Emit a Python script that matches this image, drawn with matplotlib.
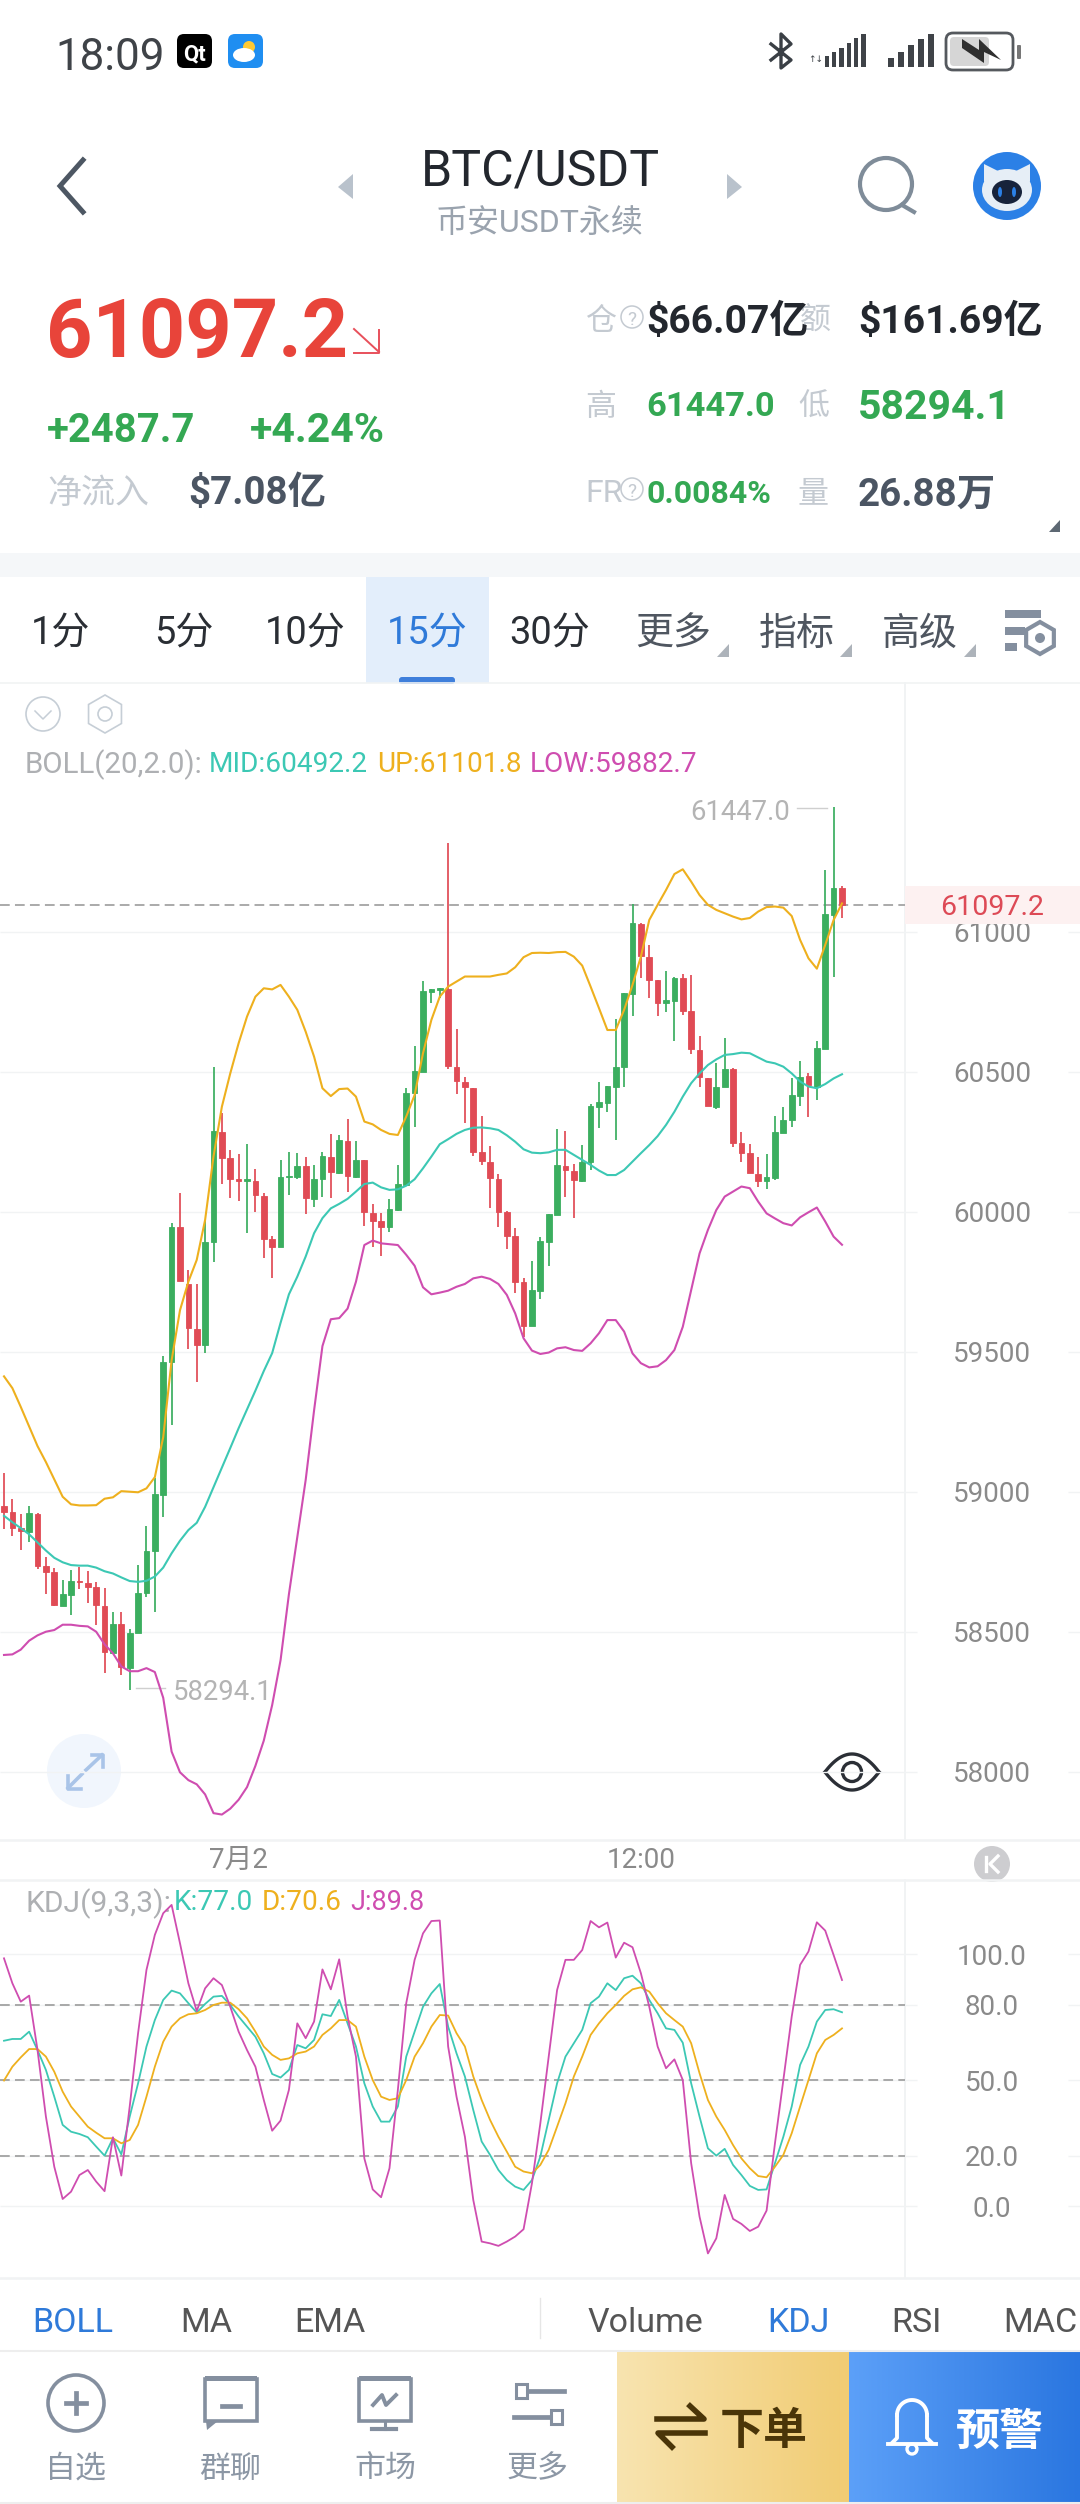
import matplotlib
matplotlib.use("Agg")
import matplotlib.pyplot as plt
import numpy as np
from matplotlib.colors import LinearSegmentedColormap
from matplotlib.patches import Circle, FancyBboxPatch, Polygon, Rectangle, Ellipse

plt.rcParams['font.family'] = ['Roboto', 'Noto Sans CJK SC', 'DejaVu Sans']

# C A N D L E S  (15 min BTC/USDT)
#############################################
opens = [58950,58930,58871,58858,58923,58734,58716,58594,58632,58682,
         58675,58659,58594,58424,58527,58373,58497,58638,58791,58989,
         59464,59946,59744,59581,59524,59894,60287,60192,60118,60112,
         60112,60058,59902,59874,60124,60126,60164,60048,60118,60198,
         60138,60255,60126,60185,59998,59968,59948,60007,60097,60424,
         60501,60786,60793,60795,60519,60466,60444,60216,60180,60119,
         60000,59914,59751,59593,59718,59894,59989,60164,60148,60112,
         60178,60376,60391,60448,60519,60779,61029,60912,60827,60748,
         60755,60835,60718,60579,60480,60376,60445,60510,60245,60210,
         60136,60111,60120,60283,60329,60416,60486,60448,60583,61061,61156]
closes = [58928,58873,58862,58925,58734,58716,58595,58635,58682,58677,
          58659,58595,58427,58529,58376,58498,58641,58791,58992,59464,
          59948,59753,59585,59524,59894,60289,60192,60118,60111,60118,
          60061,59902,59876,60126,60130,60166,60050,60119,60200,60142,
          60257,60130,60186,59999,59969,59948,60011,60099,60426,60504,
          60788,60798,60799,60522,60468,60445,60216,60182,60120,59999,
          59914,59751,59594,59721,59896,59993,60168,60150,60114,60180,
          60380,60392,60450,60519,60781,61031,60914,60829,60748,60756,
          60837,60719,60582,60483,60380,60448,60510,60245,60212,60138,
          60111,60126,60285,60329,60418,60483,60454,60585,61063,61156,61097]
highs = [59068,58976,58920,58950,58925,58768,58730,58686,58720,58733,
         58717,58677,58658,58571,58571,58511,58739,58879,59049,59485,
         59962,60067,59793,59744,59972,60517,60352,60222,60206,60242,
         60152,60067,59914,60186,60216,60210,60195,60168,60216,60277,
         60275,60331,60254,60186,60027,59995,60045,60168,60442,60593,
         60825,60798,60799,61319,60652,60481,60444,60343,60236,60135,
         60004,59942,59763,59826,59910,59993,60295,60289,60170,60239,
         60385,60463,60450,60689,60781,61100,61031,60954,60829,60860,
         60841,60850,60847,60630,60480,60531,60620,60513,60285,60242,
         60195,60207,60343,60376,60478,60539,60495,60611,61222,61447,61164]
lows = [58868,58842,58794,58820,58726,58637,58592,58594,58562,58654,
        58603,58526,58354,58424,58348,58294,58497,58626,58573,58909,
        59240,59753,59511,59393,59498,59823,60099,60051,60041,59924,
        59999,59837,59763,59874,60060,60119,59992,60017,60055,60049,
        60135,60073,60120,59951,59876,59844,59930,60002,60097,60302,
        60501,60748,60763,60511,60421,60319,60201,60168,60016,59948,
        59867,59710,59552,59593,59689,59807,59989,60055,59977,60106,
        60150,60301,60358,60257,60448,60701,60837,60763,60701,60716,
        60612,60704,60563,60448,60380,60368,60445,60231,60180,60138,
        60088,60081,60114,60283,60305,60380,60341,60400,60583,60841,61051]

# B O L L
#############################################
boll_up = [59413,59371,59304,59234,59164,59107,59045,58983,58956,58952,
           58952,58953,58976,58981,59003,59001,58999,59013,59053,59196,
           59470,59649,59751,59829,59972,60198,60376,60495,60603,60698,
           60769,60799,60795,60811,60769,60722,60644,60555,60442,60414,
           60439,60441,60412,60323,60313,60293,60279,60275,60341,60418,
           60567,60686,60769,60805,60823,60841,60841,60841,60841,60847,
           60852,60874,60910,60925,60926,60925,60928,60929,60912,60880,
           60805,60728,60650,60650,60722,60811,60912,61043,61097,61150,
           61207,61224,61180,61132,61097,61079,61067,61055,61045,61050,
           61073,61089,61091,61087,61057,60972,60906,60869,60954,61043,61102]
boll_mid = [58915,58892,58871,58849,58820,58791,58765,58749,58739,58737,
            58737,58730,58717,58709,58695,58682,58679,58683,58698,58730,
            58781,58826,58864,58890,58947,59017,59087,59157,59228,59295,
            59362,59432,59496,59604,59706,59769,59841,59924,59978,60013,
            60029,60047,60073,60100,60105,60088,60079,60081,60094,60117,
            60156,60198,60242,60260,60279,60293,60301,60302,60299,60293,
            60274,60251,60224,60212,60210,60213,60222,60222,60204,60186,
            60168,60148,60132,60132,60150,60180,60210,60239,60271,60311,
            60358,60412,60460,60495,60525,60545,60561,60564,60569,60567,
            60552,60537,60531,60519,60495,60466,60448,60442,60457,60477,60492]
boll_low = [58418,58420,58437,58469,58488,58501,58507,58526,58526,58522,
            58520,58501,58456,58424,58377,58360,58360,58371,58357,58265,
            58073,57999,57971,57956,57920,57853,57848,57869,57901,57946,
            58022,58112,58239,58399,58635,58839,59043,59291,59521,59617,
            59621,59655,59751,59882,59898,59888,59885,59882,59847,59808,
            59731,59706,59712,59719,59733,59743,59763,59769,59761,59743,
            59704,59638,59549,59505,59493,59498,59513,59517,59507,59504,
            59531,59567,59614,59614,59573,59495,59460,59445,59449,59471,
            59507,59590,59721,59852,59936,60007,60055,60073,60091,60085,
            60037,59995,59977,59960,59952,59981,59999,60016,59966,59912,59883]

# K D J
#############################################
kdj_k = [65.7,66.4,66.4,69.3,62.0,54.1,43.5,32.3,29.6,28.7,
         27.4,23.7,20.1,27.0,20.6,35.6,48.8,63.4,73.9,81.9,
         85.6,84.5,80.6,76.9,80.3,83.2,83.5,79.9,75.3,71.3,
         67.3,60.7,52.5,51.1,54.1,64.0,62.7,66.0,76.2,75.5,
         81.9,72.6,63.4,48.8,39.6,33.6,33.6,39.6,59.4,69.3,
         79.2,84.5,88.2,71.3,60.7,51.5,38.2,25.7,20.4,14.4,
         10.4,7.8,6.5,10.4,19.7,34.3,48.8,59.4,64.7,70.0,
         80.6,83.2,88.5,85.8,90.5,91.5,88.5,81.9,76.6,70.6,
         70.0,64.9,48.8,35.6,23.0,20.1,22.8,16.4,12.4,8.1,
         6.5,6.7,17.1,27.6,39.6,56.1,63.4,73.3,77.9,78.2,77.0]
kdj_d = [49.9,55.4,59.1,62.4,62.4,59.4,53.4,45.5,39.6,35.6,
         31.6,29.2,27.0,27.0,25.0,26.3,32.3,43.5,55.4,65.3,
         71.3,74.6,76.2,76.6,77.9,79.9,80.8,80.8,78.2,74.6,
         69.3,63.4,60.1,58.1,58.7,60.7,61.4,63.4,68.0,70.6,
         73.9,73.9,71.3,59.4,50.1,43.5,42.2,42.9,50.1,59.4,
         64.7,71.3,75.9,75.7,68.7,63.4,51.5,42.2,34.3,27.6,
         21.7,15.7,13.8,13.1,16.4,22.4,31.6,40.9,51.5,59.4,
         68.0,72.6,76.6,79.9,83.5,86.1,86.9,85.2,80.6,76.6,
         73.9,71.3,64.7,52.8,42.2,35.6,30.3,24.3,19.0,15.1,
         12.0,11.5,15.7,20.4,29.0,39.6,50.1,60.7,66.0,68.0,70.6]
kdj_j = [98.4,88.5,81.2,83.6,62.0,35.6,15.7,2.9,5.8,12.4,
         14.4,9.8,6.0,27.4,12.2,39.6,68.7,93.8,107.7,116.3,
         119.6,104.4,88.5,77.5,86.5,90.5,87.8,79.2,69.3,62.0,
         55.4,42.2,30.0,34.0,46.2,72.6,66.7,73.3,94.0,86.1,
         98.0,75.3,59.4,19.0,6.7,3.6,15.1,46.2,80.6,97.8,
         108.3,113.2,113.4,63.4,43.5,27.6,2.5,-14.0,-14.7,-15.7,
         -14.0,-12.0,-9.1,9.1,32.9,59.4,85.8,97.8,97.8,101.7,
         113.2,110.7,112.6,98.7,104.6,102.8,92.5,79.2,63.4,54.8,
         58.3,50.1,17.1,-4.1,-18.7,-12.7,4.5,-5.0,-7.0,-9.8,
         -8.1,-1.7,25.0,50.1,75.3,95.8,101.1,112.7,109.4,99.7,89.8]

price_ticks = [61000, 60500, 60000, 59500, 59000, 58500, 58000]
kdj_ticks = [100, 80, 50, 20, 0]
kdj_dashed = [80, 50, 20]
time_ticks = [28, 76]
time_labels = ["7月2", "12:00"]
last_price = 61097.2

GREEN = "#3bae5f"
RED = "#e04b55"
TEAL = "#3cc8b4"
ORANGE = "#eeb01e"
MAGENTA = "#cf4db0"
GRAY = "#8a8a8a"
PALE = "#f1f3f4"
ICON = "#848f9f"
DASH = (0, (5, 2.7))

W, H = 1080, 2504
fig = plt.figure(figsize=(W / 100, H / 100), dpi=100, facecolor="white")

# background axes in screen pixels for the app chrome
ui = fig.add_axes([0, 0, 1, 1], zorder=0)
ui.set_axis_off()


def txt(x, y, s, px, color="#333333", ha="left", weight="normal", z=5):
    return ui.text(x, y, s, fontsize=px * 0.72, color=color, ha=ha, va="center_baseline",
                   fontweight=weight, zorder=z)


def rrect(x0, y0, x1, y1, r, **kw):
    p = FancyBboxPatch((x0 + r, y0 + r), x1 - x0 - 2 * r, y1 - y0 - 2 * r,
                       boxstyle="round,pad=%f,rounding_size=%f" % (r, r), **kw)
    ui.add_patch(p)


def hexagon(cx, cy, r, color, lw):
    a = np.radians(np.arange(30, 390, 60))
    ui.add_patch(Polygon(np.c_[cx + r * np.cos(a), cy + r * np.sin(a)], closed=True,
                         fill=False, ec=color, lw=lw))


# S T A T U S   B A R
#############################################
txt(55, 54, "18:09", 44, "#3f4348")
rrect(177, 34, 212, 68, 7, fc="black", ec="none")
txt(194.5, 52, "Qt", 22, "white", ha="center", weight="bold")
rrect(228, 34, 263, 68, 7, fc="#1f8ef1", ec="none")
ui.add_patch(Circle((249, 47), 6, fc="#ffc933", ec="none", zorder=3))
ui.add_patch(Ellipse((244, 55), 22, 14, fc="white", ec="none", zorder=4))
ui.plot([771, 791, 781, 781, 791, 771], [44, 60, 68, 34, 44, 60], color="#3a3f45", lw=2.4)
for i, h in enumerate([6, 8, 11, 15, 19, 24, 29, 33]):
    if i > 1:
        ui.add_patch(Rectangle((810 + 7.3 * i, 67 - h), 4.5, h, fc="#3f4348", ec="none"))
ui.text(808, 60, "↑↓", fontsize=6.5, color="#3f4348", va="center", family="DejaVu Sans")
for i, h in enumerate([9, 15, 22, 28, 33]):
    ui.add_patch(Rectangle((888 + 10 * i, 67 - h), 5.5, h, fc="#3f4348", ec="none"))
rrect(946, 33, 1013, 70, 7, fc="#ffffff", ec="#55595e", lw=2)
rrect(950, 37, 989, 66, 4, fc="#d6d6d6", ec="none")
rrect(1017, 45, 1021, 59, 1, fc="#777777", ec="none")
ui.add_patch(Polygon([(962, 39), (979, 50), (979, 39), (1001, 60), (984, 52), (984, 63), (962, 48)],
                     closed=True, fc="#2f2f2f", ec="none", zorder=4))

# H E A D E R
#############################################
ui.plot([83, 60, 83], [160, 186, 212], color="#4d5763", lw=3.6, solid_joinstyle="miter")
ui.add_patch(Polygon([(353, 174), (338, 187), (353, 199)], fc="#b9c2cc", ec="none"))
ui.add_patch(Polygon([(727, 174), (742, 187), (727, 199)], fc="#b9c2cc", ec="none"))
txt(540, 166, "BTC/USDT", 50, "#23272e", ha="center")
txt(540, 220, "币安USDT永续", 32, "#9aa3ae", ha="center")
ui.add_patch(Circle((886, 184), 26, fill=False, ec="#7f8c99", lw=3))
ui.plot([902, 914], [205, 212], color="#7f8c99", lw=3)
ui.add_patch(Circle((1007, 186), 34, fc="#2b80e6", ec="none"))
ui.add_patch(Ellipse((1007, 190), 50, 42, fc="#e6eef6", ec="none", zorder=3))
ui.add_patch(Polygon([(984, 164), (1000, 172), (984, 182)], fc="#e6eef6", ec="none", zorder=3))
ui.add_patch(Polygon([(1030, 164), (1014, 172), (1030, 182)], fc="#e6eef6", ec="none", zorder=3))
ui.add_patch(Ellipse((1007, 192), 30, 24, fc="#17233b", ec="none", zorder=4))
ui.add_patch(Ellipse((1000, 192), 4, 10, fc="#2b80e6", ec="none", zorder=5))
ui.add_patch(Ellipse((1014, 192), 4, 10, fc="#2b80e6", ec="none", zorder=5))

txt(46, 327, "61097.2", 81, "#e8443a", weight="bold")
ui.plot([354, 379], [329, 352], color="#e8505b", lw=1.4)
ui.plot([379, 379, 354], [330, 353, 353], color="#e8505b", lw=1.4)
txt(47, 427, "+2487.7", 40, "#34a853", weight="bold")
txt(250, 427, "+4.24%", 41, "#34a853", weight="bold")
txt(47, 490, "净流入", 34, "#c4cad1")
txt(188, 490, "$7.08亿", 38.5, "#4b5563", weight="bold")

txt(585, 318, "仓", 31, "#c4cad1")
txt(632, 318, "?", 19, "#c4cad1", ha="center")
ui.add_patch(Circle((632, 317), 11, fill=False, ec="#c4cad1", lw=1.1))
txt(800, 318, "额", 31, "#c4cad1")
txt(646, 318, "$66.07亿", 39, "#23272e", weight="bold")
txt(858, 318, "$161.69亿", 39, "#23272e", weight="bold")
txt(585, 404, "高", 31, "#c4cad1")
txt(646, 404, "61447.0", 34.5, "#34a853", weight="bold")
txt(798, 404, "低", 31, "#c4cad1")
txt(858, 404, "58294.1", 41, "#34a853", weight="bold")
txt(585, 491, "FR", 32, "#c4cad1")
txt(632, 490, "?", 19, "#c4cad1", ha="center")
ui.add_patch(Circle((632, 489), 11, fill=False, ec="#c4cad1", lw=1.1))
txt(646, 491, "0.0084%", 32, "#34a853", weight="bold")
txt(798, 491, "量", 31, "#c4cad1")
txt(858, 491, "26.88万", 38.5, "#4b5563", weight="bold")
ui.add_patch(Polygon([(1060, 520), (1060, 532), (1049, 532)], fc="#5d6873", ec="none"))
ui.add_patch(Rectangle((0, 553), W, 24, fc="#f5f7f9", ec="none"))

# T A B S
#############################################
ui.add_patch(Rectangle((366, 577), 123, 106, fc="#e3eefb", ec="none"))
rrect(399, 677, 455, 684, 3, fc="#3f7fdb", ec="none")
for s, x, c in [("1分", 61, "#2a2e34"), ("5分", 184, "#2a2e34"), ("10分", 305, "#2a2e34"),
                ("15分", 427, "#2f7ad9"), ("30分", 550, "#2a2e34"), ("更多", 673, "#4f5660"),
                ("指标", 797, "#4f5660"), ("高级", 920, "#4f5660")]:
    txt(x, 630, s, 38, c, ha="center")
for x in [729, 852, 976]:
    ui.add_patch(Polygon([(x, 644), (x, 657), (x - 12, 657)], fc="#adb3ba", ec="none"))
ui.add_patch(Rectangle((1005, 610), 36, 8, fc=ICON, ec="none"))
ui.add_patch(Rectangle((1005, 627), 20, 8, fc=ICON, ec="none"))
ui.add_patch(Rectangle((1005, 643), 12, 8, fc=ICON, ec="none"))
hexagon(1040, 638, 16, ICON, 3)
ui.add_patch(Circle((1040, 638), 5, fc=ICON, ec="none"))

# C H A R T   F R A M E
#############################################
for y in [683, 1840, 1880, 2278]:
    ui.plot([0, W], [y, y], color=PALE, lw=1.8 if y != 683 else 1.2)
ui.plot([905, 905], [683, 1840], color=PALE, lw=1.4)
ui.plot([905, 905], [1880, 2278], color=PALE, lw=1.4)
ui.add_patch(Circle((43, 714), 17, fill=False, ec="#c6ced6", lw=1.2))
ui.plot([35, 43, 51], [711, 719, 711], color="#c6ced6", lw=1.1)
hexagon(105, 714, 19, "#c6ced6", 1.2)
ui.add_patch(Circle((105, 714), 7, fill=False, ec="#c6ced6", lw=1.2))

txt(25, 761, "BOLL(20,2.0):", 29.5, "#aeb0b3")
txt(209, 761, "MID:60492.2", 28, TEAL)
txt(377, 761, "UP:61101.8", 28, ORANGE)
txt(530, 761, "LOW:59882.7", 28, MAGENTA)

txt(25, 1900, "KDJ(9,3,3):", 30, "#aeb0b3")
txt(174, 1900, "K:77.0", 28, TEAL)
txt(262, 1900, "D:70.6", 28, ORANGE)
txt(350, 1900, "J:89.8", 27, MAGENTA)

ui.add_patch(Circle((84, 1771), 37, fc="#f1f6fd", ec="none"))
ui.plot([86, 102], [1770, 1755], color="#a9c4e8", lw=2.6)
ui.plot([92, 103, 103], [1755, 1755, 1767], color="#a9c4e8", lw=2.6)
ui.plot([68, 82], [1788, 1774], color="#a9c4e8", lw=2.6)
ui.plot([68, 68, 81], [1776, 1789, 1789], color="#a9c4e8", lw=2.6)

# eye
t = np.linspace(-1, 1, 50)
ui.plot(852 + 27 * t, 1772 - 18 * (1 - t ** 2), color="#2b2f36", lw=2.4)
ui.plot(852 + 27 * t, 1772 + 18 * (1 - t ** 2), color="#2b2f36", lw=2.4)
ui.add_patch(Circle((852, 1772), 9.5, fc="white", ec="#2b2f36", lw=2.4, zorder=3))

ui.add_patch(Circle((992, 1864), 18, fc="#cdcdd0", ec="none"))
ui.plot([986, 986], [1857, 1871], color="white", lw=2.4)
ui.plot([998, 990, 998], [1856, 1864, 1872], color="white", lw=2.4)

# I N D I C A T O R   T A B S
#############################################
for s, x, c in [("BOLL", 32, "#2f7ad9"), ("MA", 180, "#555555"), ("EMA", 294, "#555555"),
                ("Volume", 588, "#555555"), ("KDJ", 767, "#2f7ad9"), ("RSI", 891, "#555555"),
                ("MACD", 1003, "#555555")]:
    txt(x, 2320, s, 34, c)
ui.plot([540, 540], [2298, 2338], color="#e6e6e6", lw=1)
ui.plot([0, W], [2351, 2351], color="#eeeeee", lw=1.5)
ui.plot([0, W], [2503, 2503], color="#eeeeee", lw=1.5)

# B O T T O M   B A R
#############################################
for s, x in [("自选", 76), ("群聊", 230), ("市场", 385), ("更多", 538)]:
    txt(x, 2466, s, 31, "#8c97a5", ha="center")
ui.add_patch(Circle((76, 2403), 28, fill=False, ec=ICON, lw=2.6))
ui.plot([76, 76], [2393, 2413], color=ICON, lw=3.4)
ui.plot([66, 86], [2403, 2403], color=ICON, lw=3.4)
ui.add_patch(Rectangle((205, 2379), 52, 42, fill=False, ec=ICON, lw=2.6))
ui.add_patch(Rectangle((205, 2376), 52, 5, fc=ICON, ec="none"))
ui.add_patch(Polygon([(206, 2421), (218, 2421), (207, 2430)], fc=ICON, ec="none"))
ui.plot([222, 240], [2406, 2406], color=ICON, lw=3.4)
ui.add_patch(Rectangle((359, 2379), 52, 42, fill=False, ec=ICON, lw=2.6))
ui.add_patch(Rectangle((359, 2376), 52, 5, fc=ICON, ec="none"))
ui.plot([373, 382, 386, 396], [2405, 2395, 2405, 2395], color=ICON, lw=2.8)
ui.plot([385, 385], [2421, 2429], color=ICON, lw=2.2)
ui.plot([372, 396], [2429, 2429], color=ICON, lw=3)
ui.plot([526, 564], [2391, 2391], color=ICON, lw=3.4)
ui.plot([514, 552], [2417, 2417], color=ICON, lw=3.4)
ui.add_patch(Rectangle((516, 2384), 11, 14, fc="white", ec=ICON, lw=2.2, zorder=3))
ui.add_patch(Rectangle((551, 2410), 11, 14, fc="white", ec=ICON, lw=2.2, zorder=3))

gold = LinearSegmentedColormap.from_list("gold", ["#f8e4b0", "#f1cc73"])
blue = LinearSegmentedColormap.from_list("blue", ["#5ca0f8", "#2a76e0"])
ramp = np.linspace(0, 1, 256)[None, :]
ui.imshow(ramp, cmap=gold, extent=(617, 849, 2503, 2351), aspect="auto", zorder=1)
ui.imshow(ramp, cmap=blue, extent=(849, 1080, 2503, 2351), aspect="auto", zorder=1)
ui.plot([657, 704, 690], [2419, 2419, 2406], color="#4a3508", lw=4, zorder=3)
ui.plot([705, 658, 672], [2433, 2433, 2447], color="#4a3508", lw=4, zorder=3)
txt(764, 2428, "下单", 44, "#4a3508", ha="center", weight="bold")
txt(1000, 2428, "预警", 44, "white", ha="center", weight="bold")
ui.plot([892, 897, 897], [2443, 2438, 2415], color="white", lw=2.8, zorder=3)
ui.plot([932, 927, 927], [2443, 2438, 2415], color="white", lw=2.8, zorder=3)
b = np.linspace(0, np.pi, 30)
ui.plot(912 + 15 * np.cos(b), 2415 - 15 * np.sin(b), color="white", lw=2.8, zorder=3)
ui.plot([888, 936], [2444, 2444], color="white", lw=2.8, zorder=3)
ui.add_patch(Circle((912, 2449), 5, fill=False, ec="white", lw=2.4, zorder=3))

txt(790, 809, "61447.0", 27.5, "#b4b4b4", ha="right")
ui.plot([797, 827], [808, 808], color="#cfcfcf", lw=1)
txt(173, 1690, "58294.1", 27.5, "#b4b4b4")
ui.plot([136, 165], [1688, 1688], color="#cfcfcf", lw=1)

ui.set_xlim(0, W)
ui.set_ylim(H, 0)

# M A I N   C H A R T
#############################################
xlim = (-4 / 8.38, (W - 4) / 8.38)
grid_a = 917 / W
grid_b = 1068 / W
x = np.arange(len(closes))
o, c, h, l = map(np.array, (opens, closes, highs, lows))
colors = np.where(c >= o, GREEN, RED)

ax = fig.add_axes([0, 1 - 1840 / H, 1, (1840 - 683) / H], zorder=1)
ax.patch.set_alpha(0)
for s in ax.spines.values():
    s.set_visible(False)
ax.set_xlim(*xlim)
ax.set_ylim(61000 - (1840 - 932) / 0.28, 61000 + (932 - 683) / 0.28)

trans = ax.get_yaxis_transform()
ax.hlines(price_ticks, 0, grid_a, transform=trans, color=PALE, lw=1, zorder=1)
ax.hlines(price_ticks, grid_b, 1, transform=trans, color=PALE, lw=1, zorder=1)
ax.hlines(last_price, 0, 905 / W, transform=trans, color="#aaaaaa", lw=1.4,
          linestyles=DASH, zorder=1.5)

ax.vlines(x, l, h, color=colors, lw=1.25, zorder=2)
ax.bar(x, np.abs(c - o), bottom=np.minimum(o, c), width=0.68, color=colors,
       edgecolor=colors, lw=0.6, zorder=2.1)

ax.plot(x, boll_mid, color=TEAL, lw=1.5, zorder=3)
ax.plot(x, boll_up, color=ORANGE, lw=1.5, zorder=3)
ax.plot(x, boll_low, color=MAGENTA, lw=1.5, zorder=3)

ax.set_yticks(price_ticks)
ax.set_yticklabels([str(v) for v in price_ticks], ha="center")
ax.yaxis.tick_right()
ax.tick_params(axis="y", length=0, pad=-63.4, labelsize=20, labelcolor=GRAY)
ax.set_xticks(time_ticks)
ax.set_xticklabels(time_labels)
ax.tick_params(axis="x", length=0, pad=5, labelsize=20, labelcolor=GRAY)

ax.add_patch(Rectangle((905 / W, last_price - 19 / 0.28), 175 / W, 38 / 0.28, transform=trans,
                       fc="#fdf1f1", ec="none", zorder=4))
ax.text(992 / W, last_price, "61097.2", transform=trans, fontsize=20.5, color="#dd4a56",
        ha="center", va="center_baseline", zorder=5)

# K D J   P A N E L
#############################################
kx = fig.add_axes([0, 1 - 2278 / H, 1, (2278 - 1880) / H], zorder=1)
kx.patch.set_alpha(0)
for s in kx.spines.values():
    s.set_visible(False)
kx.set_xlim(*xlim)
kx.set_ylim((2206.3 - 2278) / 2.52, (2206.3 - 1880) / 2.52)

ktrans = kx.get_yaxis_transform()
kx.hlines(kdj_ticks, 0, grid_a, transform=ktrans, color=PALE, lw=1, zorder=1)
kx.hlines(kdj_ticks, grid_b, 1, transform=ktrans, color=PALE, lw=1, zorder=1)
kx.hlines(kdj_dashed, 0, 905 / W, transform=ktrans, color="#a8a8a8", lw=1.4,
          linestyles=DASH, zorder=1.5)

kx.plot(x, kdj_k, color=TEAL, lw=1.3, zorder=3)
kx.plot(x, kdj_d, color=ORANGE, lw=1.3, zorder=3)
kx.plot(x, kdj_j, color=MAGENTA, lw=1.3, zorder=3)

kx.set_xticks([])
kx.set_yticks(kdj_ticks)
kx.set_yticklabels(["%.1f" % v for v in kdj_ticks], ha="center")
kx.yaxis.tick_right()
kx.tick_params(axis="y", length=0, pad=-63.4, labelsize=20, labelcolor=GRAY)

fig.savefig("out.png", dpi=100)
